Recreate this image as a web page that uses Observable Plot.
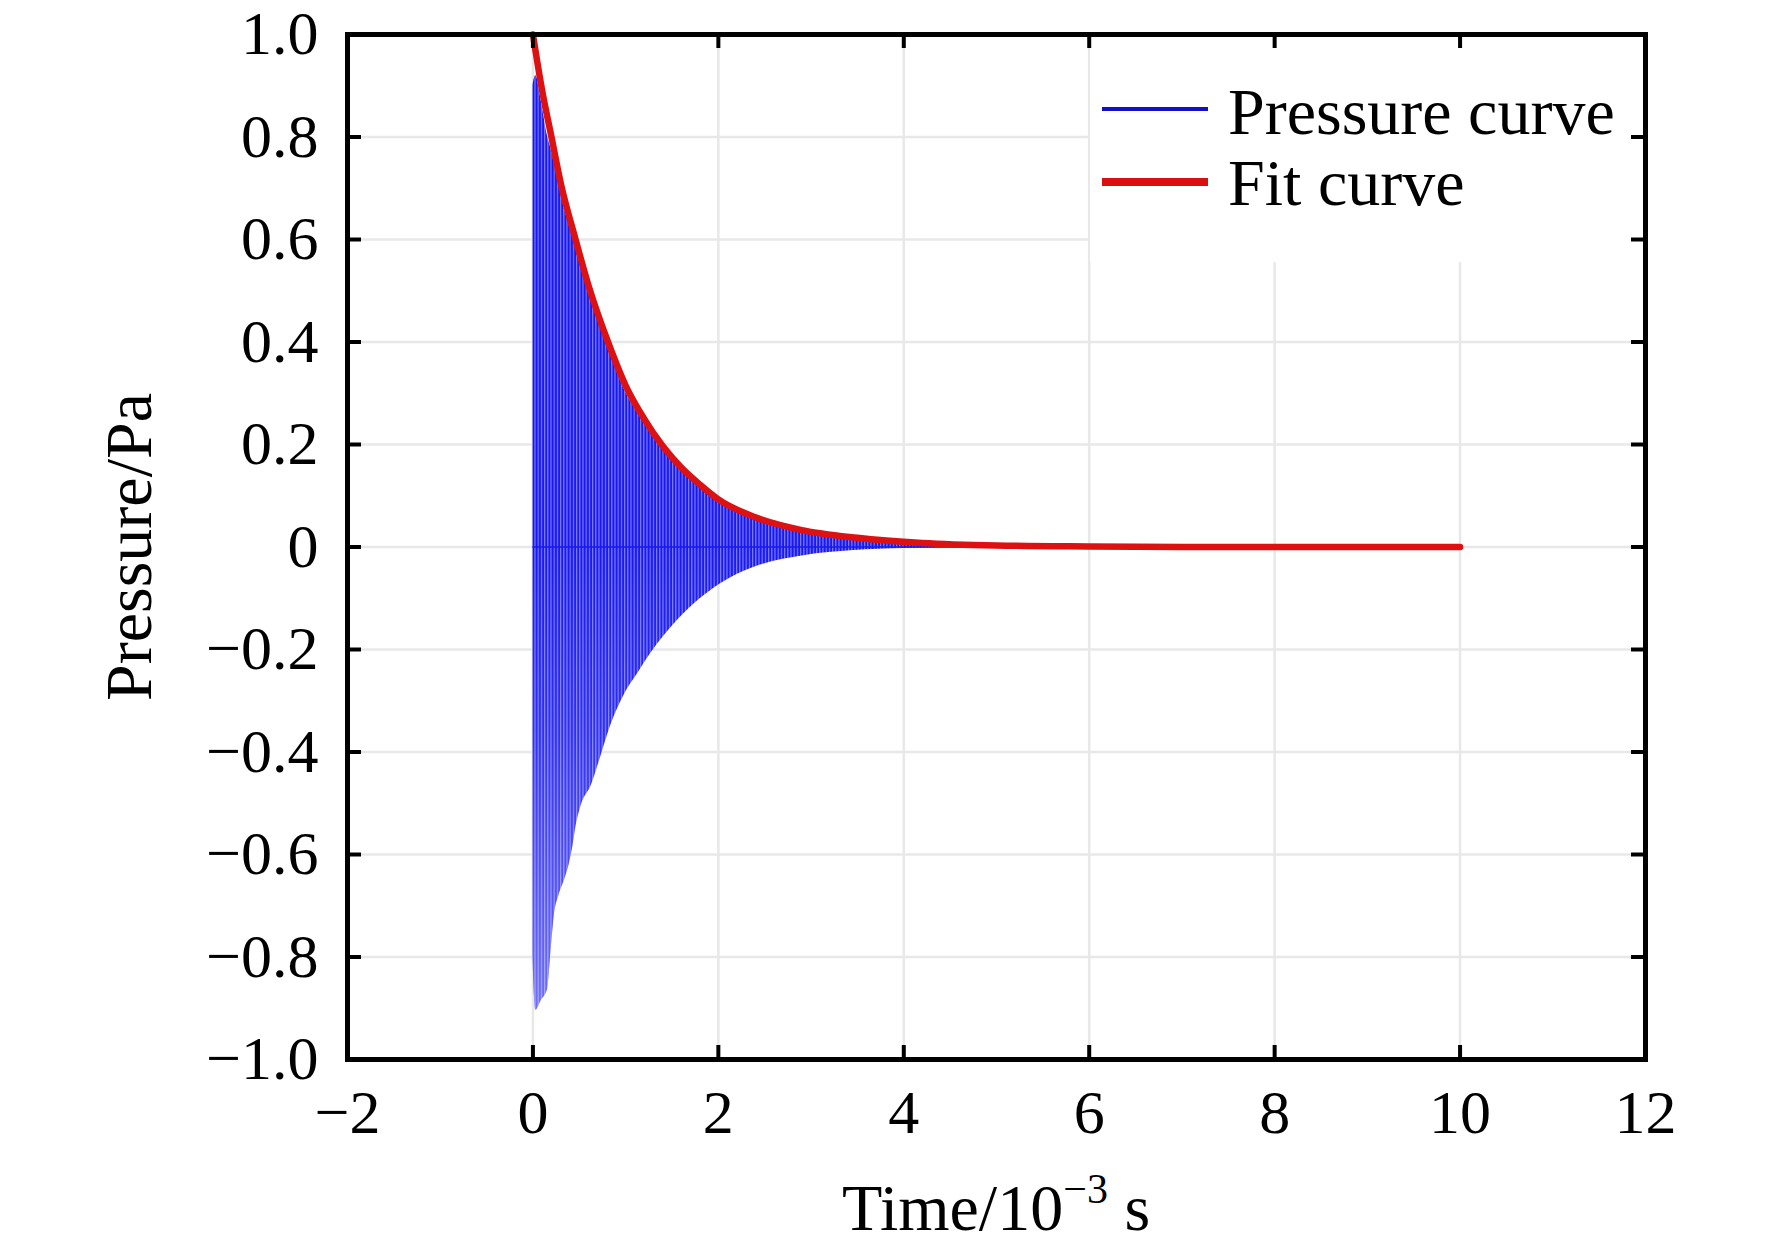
<!DOCTYPE html>
<html>
<head>
<meta charset="utf-8">
<script src="https://cdn.jsdelivr.net/npm/d3@7"></script>
<script src="https://cdn.jsdelivr.net/npm/@observablehq/plot@0.6"></script>
<style>
  html, body { margin: 0; padding: 0; background: #fff; }
  #chart svg { display: block; }
</style>
</head>
<body>
<div id="chart"></div>
<script>
// ---- data ----
const xTicks = [-2, 0, 2, 4, 6, 8, 10, 12];
const yTicks = [-1, -0.8, -0.6, -0.4, -0.2, 0, 0.2, 0.4, 0.6, 0.8, 1];
const seriesNames = ["Pressure curve", "Fit curve"];
const xLabelParts = ["Time/10", "\u22123", " s"];
const yLabel = "Pressure/Pa";

// fit curve (red)
const fitTime  = [0, 0.1, 0.2, 0.3, 0.46, 0.6, 0.81, 1.0, 1.2, 1.4, 1.6, 1.8, 2.0, 2.4, 2.9, 3.5, 4.2, 5, 6, 7, 8, 9, 10];
const fitValue = [1.0, 0.89, 0.80, 0.71, 0.60, 0.51, 0.40, 0.315, 0.25, 0.197, 0.155, 0.122, 0.093, 0.058, 0.033, 0.018, 0.008, 0.003, 0.001, 0, 0, 0, 0];

// pressure curve (blue): read envelope of the fast oscillation
const envTime  = [0, 0.03, 0.09, 0.16, 0.19, 0.23, 0.28, 0.34, 0.39, 0.43, 0.46, 0.52, 0.63, 0.73, 0.84, 0.98, 1.13, 1.27, 1.56, 2.02, 2.38, 2.92, 3.46, 4.0, 4.6, 5.2, 6, 8, 10];
const envUpper = [0.90, 0.92, 0.87, 0.80, 0.78, 0.75, 0.71, 0.66, 0.63, 0.605, 0.585, 0.55, 0.48, 0.43, 0.375, 0.31, 0.262, 0.222, 0.157, 0.087, 0.055, 0.030, 0.016, 0.008, 0.004, 0.002, 0.001, 0, 0];
const envLower = [-0.80, -0.904, -0.885, -0.862, -0.80, -0.72, -0.68, -0.65, -0.62, -0.585, -0.55, -0.505, -0.465, -0.41, -0.348, -0.29, -0.247, -0.208, -0.143, -0.072, -0.04, -0.017, -0.007, -0.003, -0.001, 0, 0, 0, 0];

// ---- layout ----
const W = 1772, H = 1251;
const mL = 347, mR = 127, mT = 34, mB = 192;
const fw = W - mL - mR, fh = H - mT - mB;
const serif = "'Liberation Serif', 'Times New Roman', Times, serif";
const blue = "#1818ee", red = "#dd1111";

const fit = fitTime.map((t, i) => ({t, v: fitValue[i]}));
const env = envTime.map((t, i) => ({t, hi: envUpper[i], lo: envLower[i]}));

const fmtX = d => (d < 0 ? "\u2212" : "") + Math.abs(d);
const fmtY = d => d === 0 ? "0" : (d < 0 ? "\u2212" : "") + Math.abs(d).toFixed(1);

function legendMark() {
  const g = d3.create("svg:g");
  g.append("rect").attr("x", 1090).attr("y", 37).attr("width", 552).attr("height", 225).attr("fill", "white");
  const rows = [
    {name: seriesNames[0], color: "#1010c8", width: 4, y: 109, base: 134},
    {name: seriesNames[1], color: "#d81010", width: 8, y: 182, base: 205}
  ];
  for (const r of rows) {
    g.append("line").attr("x1", 1102).attr("x2", 1208).attr("y1", r.y).attr("y2", r.y)
      .attr("stroke", r.color).attr("stroke-width", r.width);
    g.append("text").attr("x", 1228).attr("y", r.base).attr("text-anchor", "start")
      .attr("font-family", serif).attr("font-size", 66).attr("fill", "black").text(r.name);
  }
  return g.node();
}

function xTitleMark() {
  const t = d3.create("svg:text").attr("x", mL + fw / 2).attr("y", 1230)
    .attr("text-anchor", "middle").attr("font-family", serif).attr("font-size", 66).attr("fill", "black");
  t.append("tspan").text(xLabelParts[0]);
  t.append("tspan").attr("dy", -27).attr("font-size", 42).text(xLabelParts[1]);
  t.append("tspan").attr("dy", 27).text(xLabelParts[2]);
  return t.node();
}

const chart = Plot.plot({
  width: W, height: H,
  marginLeft: mL, marginRight: mR, marginTop: mT, marginBottom: mB,
  style: {fontFamily: serif, color: "black", background: "white"},
  x: {domain: [-2, 12], axis: null},
  y: {domain: [-1, 1], axis: null},
  marks: [
    Plot.gridX(xTicks, {stroke: "#e8e8e8", strokeOpacity: 1, strokeWidth: 2.5}),
    Plot.gridY(yTicks, {stroke: "#e8e8e8", strokeOpacity: 1, strokeWidth: 2.5}),
    // pressure curve: oscillation band
    Plot.areaY(env, {x: "t", y1: "lo", y2: "hi", fill: "url(#stripes)", curve: "monotone-x"}),
    Plot.areaY(env, {x: "t", y1: "lo", y2: () => 0, fill: "url(#fade)", curve: "monotone-x"}),
    Plot.line(env, {x: "t", y: () => 0, stroke: blue, strokeWidth: 1.5}),
    // fit curve
    Plot.line(fit, {x: "t", y: "v", stroke: red, strokeWidth: 6.5, curve: "monotone-x"}),
    legendMark,
    Plot.frame({stroke: "black", strokeWidth: 5}),
    // inward ticks on all sides
    Plot.tickX(xTicks, {x: d => d, insetTop: fh - 14, stroke: "black", strokeWidth: 4}),
    Plot.tickX(xTicks, {x: d => d, insetBottom: fh - 14, stroke: "black", strokeWidth: 4}),
    Plot.tickY(yTicks, {y: d => d, insetRight: fw - 14, stroke: "black", strokeWidth: 4}),
    Plot.tickY(yTicks, {y: d => d, insetLeft: fw - 14, stroke: "black", strokeWidth: 4}),
    // tick labels
    Plot.axisX(xTicks, {anchor: "bottom", tickSize: 0, tickPadding: 29, tickFormat: fmtX, fontSize: 62, fontFamily: serif, label: null}),
    Plot.axisY(yTicks, {anchor: "left", tickSize: 0, tickPadding: 29, tickFormat: fmtY, fontSize: 62, fontFamily: serif, label: null}),
    // axis titles
    xTitleMark,
    Plot.text([yLabel], {frameAnchor: "left", dx: -218, rotate: -90, textAnchor: "middle", text: d => d, fontSize: 66, fontFamily: serif, fill: "black", lineAnchor: "middle"})
  ]
});

// pattern / gradient definitions (styling only)
const defs = d3.select(chart).insert("defs", ":first-child");
const pat = defs.append("pattern").attr("id", "stripes").attr("patternUnits", "userSpaceOnUse")
  .attr("width", 3.2).attr("height", 20);
pat.append("rect").attr("width", 3.2).attr("height", 20).attr("fill", blue);
pat.append("rect").attr("width", 1.2).attr("height", 20).attr("fill", "#7c7cf5");
const grad = defs.append("linearGradient").attr("id", "fade").attr("x1", 0).attr("y1", 0).attr("x2", 0).attr("y2", 1);
grad.append("stop").attr("offset", 0).attr("stop-color", "white").attr("stop-opacity", 0);
grad.append("stop").attr("offset", 0.4).attr("stop-color", "white").attr("stop-opacity", 0.1);
grad.append("stop").attr("offset", 1).attr("stop-color", "white").attr("stop-opacity", 0.38);

document.getElementById("chart").appendChild(chart);
</script>
</body>
</html>
